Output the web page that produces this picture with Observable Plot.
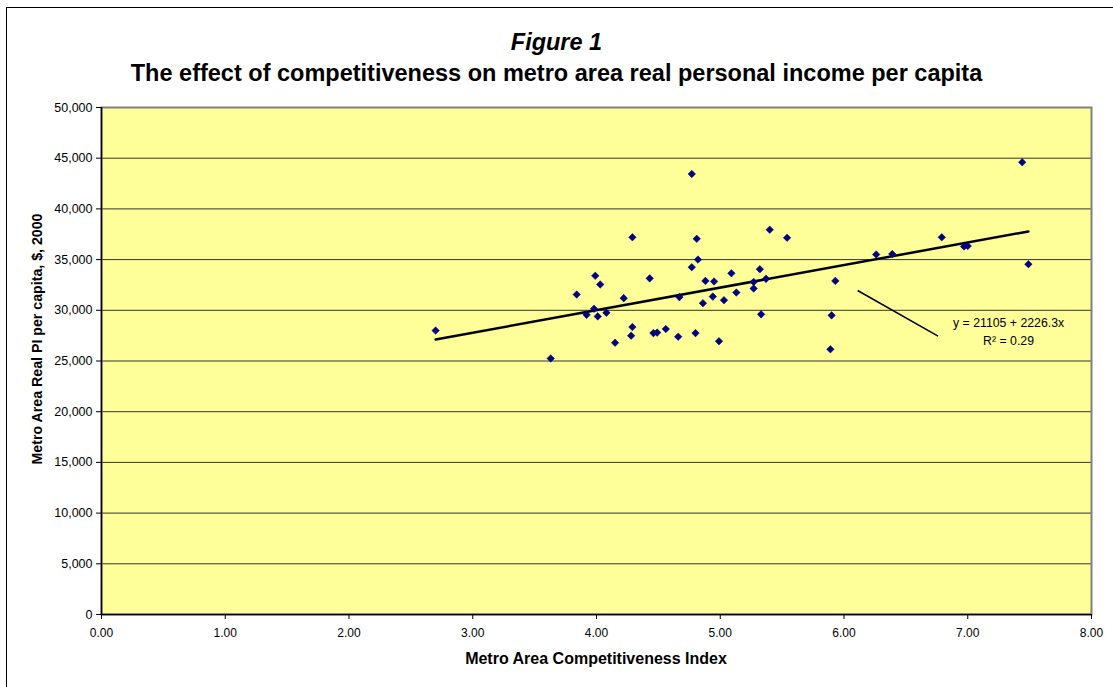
<!DOCTYPE html>
<html>
<head>
<meta charset="utf-8">
<script src="https://cdn.jsdelivr.net/npm/d3@7"></script>
<script src="https://cdn.jsdelivr.net/npm/@observablehq/plot@0.6"></script>
<style>
  html, body { margin: 0; padding: 0; background: #fff; }
  #wrap { position: relative; width: 1113px; height: 687px; overflow: hidden; font-family: "Liberation Sans", Arial, sans-serif; }
  #border { position: absolute; left: 6px; top: 7px; width: 1200px; height: 800px; border-left: 1.5px solid #000; border-top: 1.5px solid #000; }
  .t { position: absolute; left: 0; width: 1113px; text-align: center; font-weight: bold; color: #000; font-size: 23.5px; line-height: 1; }
  #fig { top: 31px; font-style: italic; }
  #title { top: 62px; }
  #xlabel { position: absolute; left: 101px; width: 990px; top: 651px; text-align: center; font-weight: bold; font-size: 16px; line-height: 1; }
  #ylabel { position: absolute; left: 37px; top: 339px; transform: translate(-50%, -50%) rotate(-90deg); white-space: nowrap; font-weight: bold; font-size: 14.2px; line-height: 1; }
  #chart { position: absolute; left: 0; top: 0; }
</style>
</head>
<body>
<div id="wrap">
  <div id="chart"></div>
  <div id="border"></div>
  <div class="t" id="fig">Figure 1</div>
  <div class="t" id="title">The effect of competitiveness on metro area real personal income per capita</div>
  <div id="xlabel">Metro Area Competitiveness Index</div>
  <div id="ylabel">Metro Area Real PI per capita, $, 2000</div>
</div>
<script>
// Metro area competitiveness index (x) and real PI per capita, $ 2000 (y)
const competitiveness = [
  2.70, 3.63, 4.29, 3.99, 4.03, 3.84, 4.22, 4.43, 3.98, 3.92,
  4.01, 4.08, 4.29, 4.28, 4.15, 4.46, 4.49, 4.77, 4.56, 4.66,
  4.80, 4.99, 4.67, 4.81, 4.82, 4.77, 4.88, 4.95, 4.86, 4.94,
  5.03, 5.09, 5.13, 5.27, 5.27, 5.32, 5.37, 5.33, 5.40, 5.54,
  5.90, 5.89, 5.93, 6.26, 6.39, 6.79, 6.97, 7.00, 7.44, 7.49
];
const incomePerCapita = [
  28000, 25250, 37200, 33400, 32550, 31550, 31200, 33150, 30150, 29550,
  29400, 29750, 28350, 27500, 26800, 27750, 27800, 43450, 28150, 27400,
  27750, 26950, 31300, 37050, 35000, 34250, 32900, 32850, 30700, 31350,
  31000, 33650, 31750, 32150, 32800, 34050, 33100, 29600, 37950, 37150,
  29500, 26150, 32900, 35500, 35550, 37200, 36300, 36350, 44600, 34550
];
// Linear trend: y = intercept + slope * x
const trendIntercept = 21105;
const trendSlope = 2226.3;
const trendLabels = ["y = 21105 + 2226.3x", "R\u00b2 = 0.29"];
const xTicks = [0, 1, 2, 3, 4, 5, 6, 7, 8];
const yTicks = [0, 5000, 10000, 15000, 20000, 25000, 30000, 35000, 40000, 45000, 50000];
// Leader line annotation from the trend-line label toward the line (data units)
const leaderX = [6.11, 6.76];
const leaderY = [31950, 27450];
const labelX = [7.33, 7.33];
const labelY = [28750, 26950];

const points = competitiveness.map((x, i) => ({x, y: incomePerCapita[i]}));
const xMin = d3.min(competitiveness), xMax = d3.max(competitiveness);
const trend = [xMin, xMax].map(x => ({x, y: trendIntercept + trendSlope * x}));
const leader = [{x1: leaderX[0], y1: leaderY[0], x2: leaderX[1], y2: leaderY[1]}];
const labels = trendLabels.map((t, i) => ({t, x: labelX[i], y: labelY[i]}));

const chart = Plot.plot({
  width: 1113,
  height: 687,
  marginLeft: 101,
  marginRight: 22,
  marginTop: 107,
  marginBottom: 73,
  style: {fontFamily: "'Liberation Sans', Arial, sans-serif", fontSize: "12px", color: "#000", background: "transparent"},
  x: {domain: [0, 8]},
  y: {domain: [0, 50000]},
  marks: [
    Plot.frame({fill: "#ffff99", stroke: null}),
    Plot.ruleY(yTicks.filter(d => d > 0 && d < 50000), {stroke: "#333", strokeWidth: 1}),
    Plot.frame({stroke: "#808080", strokeWidth: 2}),
    Plot.ruleX([0], {stroke: "#000", strokeWidth: 1.5}),
    Plot.ruleY([0], {stroke: "#000", strokeWidth: 1.5}),
    Plot.axisX({ticks: xTicks, tickFormat: d => d.toFixed(2), tickSize: 5, tickPadding: 9, label: null, fontSize: 12}),
    Plot.axisY({ticks: yTicks, tickFormat: d3.format(","), tickSize: 5, tickPadding: 4, label: null, fontSize: 12.5}),
    Plot.line(trend, {x: "x", y: "y", stroke: "#000", strokeWidth: 2.5}),
    Plot.link(leader, {x1: "x1", y1: "y1", x2: "x2", y2: "y2", stroke: "#000", strokeWidth: 1.5}),
    Plot.dot(points, {x: "x", y: "y", symbol: "diamond2", r: 3.4, fill: "#000080", stroke: "#000080", strokeWidth: 0.5}),
    Plot.text(labels, {x: "x", y: "y", text: "t", fontSize: 12.3, fill: "#000", textAnchor: "middle"})
  ]
});
document.getElementById("chart").appendChild(chart);
</script>
</body>
</html>
